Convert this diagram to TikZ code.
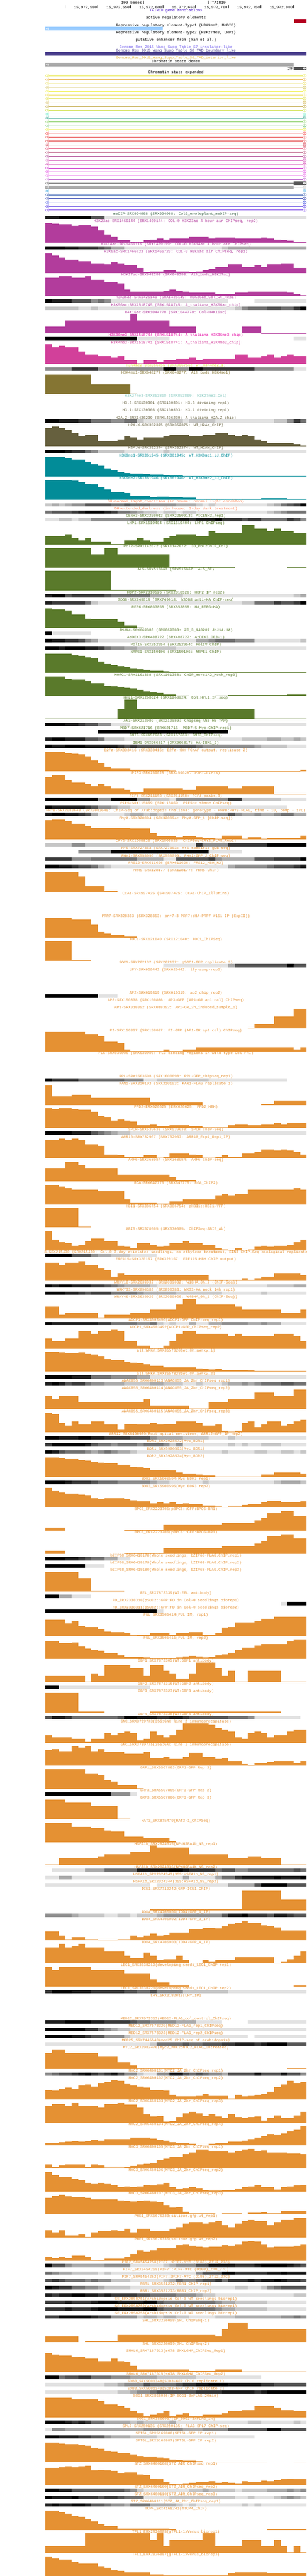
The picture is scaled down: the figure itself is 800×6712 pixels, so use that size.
\documentclass[tikz,border=0pt]{standalone}
\usepackage{fontspec}
\usepackage{tikz}
\usetikzlibrary{math}
\newfontfamily\ucsc{Liberation Mono}
\catcode`\_=12

\definecolor{g0}{HTML}{000000}
\definecolor{g1}{HTML}{1C1C1C}
\definecolor{g2}{HTML}{383838}
\definecolor{g3}{HTML}{555555}
\definecolor{g4}{HTML}{717171}
\definecolor{g5}{HTML}{8E8E8E}
\definecolor{g6}{HTML}{AAAAAA}
\definecolor{g7}{HTML}{C6C6C6}
\definecolor{g8}{HTML}{E2E2E2}
\definecolor{gw}{HTML}{FFFFFF}
\definecolor{cTair}{HTML}{3A00C8}
\definecolor{cRepress}{HTML}{99CCFF}
\definecolor{cActive}{HTML}{B40020}
\definecolor{cInsul}{HTML}{7B68EE}
\definecolor{cBound}{HTML}{483D8B}
\definecolor{cInter}{HTML}{DAA520}
\definecolor{cMeth}{HTML}{2E5A3C}
\definecolor{cAcet}{HTML}{B23C9C}
\definecolor{cMetA}{HTML}{E400A0}
\definecolor{cMetB}{HTML}{D2409A}
\definecolor{cMetC}{HTML}{DCDC3C}
\definecolor{cMetD}{HTML}{857533}
\definecolor{cMetE}{HTML}{7CC4BA}
\definecolor{cVar}{HTML}{66603E}
\definecolor{cNine}{HTML}{028C98}
\definecolor{cDh}{HTML}{FF7F50}
\definecolor{cReg}{HTML}{5A7A2B}
\definecolor{cTf}{HTML}{E59133}

\tikzset{
  tracklab/.style={font=\ucsc, inner sep=0pt, anchor=base},
  stateline/.style={line width=1pt},
}
\def\trackcol{black}
% label, centred over the plot
\newcommand{\tracklab}[2]{\node [tracklab, text=\trackcol] (lab#1) at (458.5, {#1+3.5}) {#2};}
% bar graph: base line, then bin/height pairs
\newcommand{\trackhist}[2]{%
  \foreach \bin/\hgt [remember=\bin as \last (initially 0)] in {#2} {
    \ifnum\hgt>0 \fill [fill=\trackcol] ({ex(\last)}, #1) rectangle ({ex(\bin)}, {#1-\hgt}); \fi
  }}
% grey strip: top line, then bin/level pairs
\newcommand{\trackdense}[2]{%
  \foreach \bin/\lev [remember=\bin as \last (initially 0)] in {#2} {
    \fill [fill=g\lev] ({ex(\last)}, #1) rectangle ({ex(\bin)}, {#1+9});
  }}
\newcommand{\leftmarks}[1]{%
  \fill [white] (123, {#1-3}) -- (120, #1) -- (123, {#1+3}) -- cycle;
  \fill [white] (127, {#1-3}) -- (124, #1) -- (127, {#1+3}) -- cycle;}
\newcommand{\rightmarks}[1]{%
  \fill [white] (790, {#1-3}) -- (793, #1) -- (790, {#1+3}) -- cycle;
  \fill [white] (794, {#1-3}) -- (797, #1) -- (794, {#1+3}) -- cycle;}

\begin{document}
\begin{tikzpicture}[x=1pt, y=-1pt, declare function={ex(\i)=118+17*\i+(\i>0);}]
  \useasboundingbox (0, 0) rectangle (800, 6712);

  % scale bar
  \coordinate (barleft) at (373.5, 6.5);
  \coordinate (barright) at (543.5, 6.5);
  \draw (barleft) -- (barright);
  \draw (barleft) ++(0, -4.5) -- ++(0, 9);
  \draw (barright) ++(0, -4.5) -- ++(0, 9);
  \node [tracklab, anchor=base east] (barlab) at (370, 10) {100 bases};
  \node [tracklab, anchor=base west] (barasm) at (552, 10) {TAIR10};

  % ruler
  \draw (169.5, 13.5) -- ++(0, 8.5);
  \foreach \tx/\tl in {254.5/{15,972,500}, 339.5/{15,972,550}, 424.5/{15,972,600}, 509.5/{15,972,650},
                       594.5/{15,972,700}, 679.5/{15,972,750}, 764.5/{15,972,800}} {
    \draw (\tx, 13.5) -- ++(0, 8.5);
    \node [tracklab, anchor=base east] (rul\tx) at (\tx-1.5, 21.5) {\tl};
  }

  % annotation tracks
  \def\trackcol{cTair}
  \tracklab{27}{TAIR10 gene annotations}
  \def\trackcol{black}
  \tracklab{46}{active regulatory elements}
  \fill [cActive] (767, 51) rectangle (799, 60);
  \tracklab{65}{Repressive regulatory element-Type1 (H3K9me2, MeDIP)}
  \fill [cRepress] (118, 70) rectangle (424, 79);
  \leftmarks{74.5}
  \tracklab{84}{Repressive regulatory element-Type2 (H3K27me3, LHP1)}
  \tracklab{103}{putative enhancer from (Yan et al.)}
  \def\trackcol{cInsul}
  \tracklab{122}{Genome_Res_2015_Wang_Supp_Table_S7_insulator-like}
  \def\trackcol{cBound}
  \tracklab{131}{Genome_Res_2015_Wang_Supp_Table_S8_TAD_boundary_like}
  \fill [cBound] (118, 136) rectangle (799, 145);
  \def\trackcol{cInter}
  \tracklab{150}{Genome_Res_2015_Wang_Supp_Table_S9_TAD_interior_like}

  % chromatin states
  \def\trackcol{black}
  \tracklab{159}{Chromatin state dense}
  \fill [g6] (118, 164) rectangle (765, 173);
  \leftmarks{168.5}
  \fill [g3] (765, 174) rectangle (799, 183);
  \rightmarks{178.5}
  \node [tracklab, anchor=base east] (statecount) at (762, 181.5) {29};
  \tracklab{188}{Chromatin state expanded}
  \foreach \c [count=\i from 0] in {E6E63A, E8AC3A, E6DC50, C8B43C, F0F040, F0DC50, DCDC32, C8A832, B4961E, C8DC32,
      50E6BE, 14967D, 78C850, 50B450, E6E61E, F01E1E, E63C3C, DC1E1E, C81E32, E65078, AA3264, AA3C8C, D24CB4, C814A0,
      C81EC8, DC28DC, E650E6, B450C8, 505050, ADADAD, 1496DC, 0A3CA0, 0A1EA0, 1E32DC, 3214DC, 6E32E6} {
    \tikzmath{
      \yc = 197.5+10*\i;
    }
    \edef\setstate{\noexpand\definecolor{st}{HTML}{\c}}\setstate
    \draw [stateline, st] (127, \yc) -- (789, \yc);
    \draw [st] (122.5, \yc-4) -- (118.5, \yc) -- (122.5, \yc+4) -- cycle;
    \draw [st] (126.5, \yc-4) -- (122.5, \yc) -- (126.5, \yc+4) -- cycle;
    \draw [st] (789.5, \yc-4) -- (793.5, \yc) -- (789.5, \yc+4) -- cycle;
    \draw [st] (794.5, \yc-4) -- (798.5, \yc) -- (794.5, \yc+4) -- cycle;
  }
  \fill [g3] (765, 473) rectangle (799, 482);
  \rightmarks{477.5}
  \fill [g6] (118, 483) rectangle (765, 492);
  \leftmarks{487.5}

  % histone marks
  \def\trackcol{cMeth}
  \tracklab{557}{meDIP-SRX004968 (SRX004968: Col0_wholeplant_meDIP-seq)}
  \trackdense{562}{2/1,7/0,9/3,40/8}
  \def\trackcol{cAcet}
  \tracklab{576}{H3K23ac-SRX1469144 (SRX1469144: COL-0 H3K23ac 4 hour air ChIPseq, rep2)}
  \trackhist{632}{1/51,2/50,4/48,5/44,7/45,8/42,9/32,10/21,11/15,13/6,15/3,16/6,17/8,18/11,19/8,20/11,21/10,22/11,25/15,26/11,29/13,30/11,31/10,33/11,34/13,35/10,36/8,37/6,38/5,39/3,40/2}
  \tracklab{636}{H3K14ac-SRX1469119 (SRX1469119: COL-0 H3K14ac 4 hour air ChIPseq)}
  \trackdense{641}{3/0,5/1,8/2,9/3,10/4,12/6,27/8,28/7,40/6}
  \tracklab{655}{H3K9ac-SRX1466723 (SRX1466723: COL-0 H3K9ac air ChIPseq, rep1)}
  \trackhist{711}{1/51,2/45,3/40,5/34,7/31,9/25,10/22,11/28,12/25,14/19,15/13,16/2,18/4,20/7,22/4,23/2,24/4,25/7,26/10,28/16,30/22,32/16,33/19,34/16,36/22,38/25,40/13}
  \tracklab{715}{H3K27ac-SRX648280 (SRX648280: Ath_buds_H3K27ac)}
  \trackhist{771}{2/48,4/51,6/48,7/51,9/42,11/36,12/33,13/17,18/11,19/14,20/17,21/14,22/11,26/8,29/5,31/8,37/11,38/8,39/5,40/2}
  \tracklab{775}{H3K36ac-SRX1426149 (SRX1426149: H3K36ac_Col_wt_Rep1)}
  \trackdense{780}{1/0,4/1,7/3,8/5,9/4,10/5,28/8,32/w,40/8}
  \tracklab{794}{H3K56ac-SRX1518745 (SRX1518745: A_thaliana_H3K56ac_chip)}
  \trackdense{799}{5/7,7/8,8/7,29/8,30/7,31/5,34/4,36/3,38/4,39/2,40/0}
  \tracklab{813}{H4K16ac-SRX1044778 (SRX1044778: Col-H4K16ac)}
  \trackhist{869}{3/18,13/34,14/51,19/34,23/18,30/0,33/18,40/1}
  \def\trackcol{cMetA}
  \tracklab{873}{H3K36me3-SRX1518744 (SRX1518744: A_thaliana_H3K36me3_chip)}
  \trackdense{878}{14/0,19/8,38/w,40/8}
  \def\trackcol{cMetB}
  \tracklab{892}{H3K4me3-SRX1518741 (SRX1518741: A_thaliana_H3K4me3_chip)}
  \trackhist{948}{1/51,2/43,3/47,5/43,6/32,8/25,10/21,11/17,12/21,14/10,15/2,17/10,18/6,20/10,22/13,23/17,24/10,29/13,31/25,33/17,34/21,35/25,36/17,37/21,38/25,40/21}
  \def\trackcol{cMetC}
  \tracklab{952}{H3K4me2-DRX066756 (DRX066756: WT_H3K4me2_1)}
  \trackdense{957}{4/5,8/2,18/5,20/0,22/5,24/0,32/2,38/5,40/8}
  \def\trackcol{cMetD}
  \tracklab{971}{H3K4me1-SRX648277 (SRX648277: Ath_buds_H3K4me1)}
  \trackhist{1027}{7/51,13/25,14/2}
  \def\trackcol{cMetE}
  \tracklab{1031}{H3K27me3-SRX853860 (SRX853860: H3K27me3_Col)}
  \def\trackcol{cVar}
  \tracklab{1050}{H3.3-SRX130301 (SRX130301: H3.3 dividing rep1)}
  \tracklab{1069}{H3.1-SRX130303 (SRX130303: H3.1 dividing rep1)}
  \tracklab{1088}{H2A.Z-SRX1436239 (SRX1436239: A_thaliana_H2A.Z_chip)}
  \trackdense{1093}{2/0,5/1,7/2,10/4,12/5,14/4,15/7,19/8,21/7,22/8,26/7,35/8,37/7,38/5,39/2,40/4}
  \tracklab{1107}{H2A.X-SRX352375 (SRX352375: WT_H2AX_ChIP)}
  \trackhist{1163}{1/47,2/51,3/47,4/44,5/35,6/27,8/30,11/14,12/18,13/27,14/23,15/18,18/23,19/27,22/30,24/27,26/30,28/35,29/30,30/27,31/30,32/27,33/18,34/14,38/9,39/6,40/2}
  \tracklab{1167}{H2A.W-SRX352374 (SRX352374: WT_H2AW_ChIP)}
  \trackdense{1172}{3/0,4/1,6/2,7/4,8/5,12/7,18/8,19/7,40/8}
  \def\trackcol{cNine}
  \tracklab{1186}{H3K9me1-SRX361945 (SRX361945: WT_H3K9me1_LJ_ChIP)}
  \trackhist{1242}{3/51,4/49,5/45,6/44,7/39,8/33,9/28,10/22,11/16,12/13,13/10,14/9,15/8,16/7,18/6,19/4,21/3,40/1}
  \tracklab{1246}{H3K9me2-SRX361946 (SRX361946: WT_H3K9me2_LJ_ChIP)}
  \trackhist{1302}{4/51,5/49,6/45,7/42,8/40,9/33,10/27,12/20,13/18,14/11,15/10,16/9,17/7,19/8,21/6,23/5,25/2,28/3,30/2,33/3,37/4,40/2}
  \def\trackcol{cDh}
  \tracklab{1306}{DH-normal_light_condition (in house: normal light conditon)}
  \trackdense{1311}{1/7,2/6,3/7,4/6,6/5,10/3,12/4,13/3,16/4,20/5,23/6,24/7,25/8,26/7,34/8,35/7,36/6,37/4,38/3,39/2,40/0}
  \tracklab{1325}{DH-extended_darkness (in house: 3-day dark treatment)}
  \trackdense{1330}{1/4,4/3,5/2,6/1,9/0,10/1,11/2,13/4,14/5,15/6,17/7,18/8,20/7,21/8,23/7,34/8,35/7,36/6,37/5,40/4}

  % chromatin regulators
  \def\trackcol{cReg}
  \tracklab{1344}{CENH3-SRX2250913 (SRX2250913: AtCENH3_rep1)}
  \trackdense{1349}{2/8,4/7,5/8,7/7,13/5,15/4,17/3,18/4,19/3,22/1,23/2,26/1,27/0,30/2,31/3,33/2,37/4,38/2,39/3,40/5}
  \tracklab{1363}{LHP1-SRX1519404 (SRX1519404: LHP1 ChIPseq)}
  \trackhist{1419}{3/22,4/27,5/17,6/11,7/17,10/7,12/2,14/11,15/17,16/11,18/7,19/17,20/22,23/27,25/22,26/35,30/31,32/51,34/42,35/35,36/42,38/35,40/31}
  \tracklab{1423}{Pol2-SRX1142672 (SRX1142672: 30_Pol2ChIP_Col)}
  \trackhist{1479}{7/51,9/34,11/51,19/34,29/2,37/0,40/2}
  \tracklab{1483}{AL5-SRX515067 (SRX515067: AL5_OE)}
  \trackhist{1539}{10/51,20/2}
  \tracklab{1543}{HDP2-SRX2310526 (SRX2310526: HDP2 IP rep2)}
  \trackdense{1548}{1/1,3/0,4/3,9/2,10/3,16/4,19/6,21/7,38/8,39/7,40/6}
  \tracklab{1562}{SDG8-SRX749018 (SRX749018: hSDG8 anti-HA ChIP-seq)}
  \trackdense{1567}{1/1,6/2,7/4,8/7,30/8,32/7,35/4,36/2,38/3,39/2,40/0}
  \tracklab{1581}{REF6-SRX853858 (SRX853858: HA_REF6-HA)}
  \trackhist{1637}{1/51,3/49,4/46,6/35,7/25,11/24,12/17,14/7,15/2}
  \tracklab{1641}{JMJ14-SRX669383 (SRX669383: ZC_3_140207 JMJ14-HA)}
  \trackdense{1646}{1/0,7/8}
  \tracklab{1660}{AtDEK3-SRX488722 (SRX488722: AtDEK3 OE3-1)}
  \trackdense{1665}{1/0,3/1,5/2,6/3,7/5,8/6,23/8,25/6,26/5,29/4,32/5,39/8,40/7}
  \tracklab{1679}{PolIV-SRX252954 (SRX252954: PolIV ChIP)}
  \trackdense{1684}{2/0,3/1,6/0,8/1,9/2,10/4,12/5,14/6,20/7,40/8}
  \tracklab{1698}{NRPE1-SRX159106 (SRX159106: NRPE1 ChIP)}
  \trackhist{1753}{4/50,5/46,6/44,7/40,8/37,9/29,10/23,11/20,12/17,13/15,14/12,15/9,16/8,18/5,19/4,20/2,40/1}
  \tracklab{1758}{MORC1-SRX1161358 (SRX1161358: ChIP_morc1/2_Mock_rep3)}
  \trackhist{1813}{3/50,4/44,5/43,6/42,7/38,9/33,10/26,11/25,12/24,13/21,14/19,15/15,16/12,17/9,18/8,20/4,22/1,26/0,28/1,37/2,40/3}
  \tracklab{1818}{HYL1-SRX1268024 (SRX1268024: Col_HYL1_IP_seq)}
  \trackhist{1874}{11/2,12/27,14/51,32/27,40/2}
  \tracklab{1878}{AN3-SRX212080 (SRX212080: Chipseq AN3 HB TAP)}
  \trackdense{1883}{3/0,5/1,6/2,8/3,10/5,13/8,28/w,40/8}
  \tracklab{1897}{MBD7-SRX621716 (SRX621716: MBD7-5-Myc-ChIP-rep1)}
  \trackdense{1902}{8/w,28/0}
  \tracklab{1916}{CMT3-SRX157663 (SRX157663: CMT3_ChIPseq)}
  \trackdense{1921}{1/1,3/0,6/1,8/3,9/4,12/7,30/8,34/7,36/6,38/7,39/6,40/7}
  \tracklab{1935}{IBM1-DRX066817 (DRX066817: HA-IBM1_2)}
  \trackdense{1940}{1/0,3/1,6/0,11/1,12/2,13/3,14/2,23/3,24/4,32/5,33/6,37/7,40/8}

  % transcription factors
  \def\trackcol{cTf}
  \tracklab{1954}{E2Fa-SRX333416 (SRX333416: E2Fa-HBH TChAP output, replicate 2)}
  \trackhist{2010}{3/51,4/47,5/46,6/45,7/40,8/29,9/22,10/13,12/9,13/8,14/5,19/4,20/2,22/0,39/1,40/4}
  \tracklab{2014}{PIF3-SRX159028 (SRX159028: P3M-ChIP-3)}
  \trackhist{2070}{1/46,3/51,4/37,6/31,7/27,8/21,9/27,10/21,12/16,13/12,15/7,21/16,23/12,28/21,30/16,35/21,40/2}
  \tracklab{2074}{PIF4-SRX214150 (SRX214150: PIF4-peaks-3)}
  \trackdense{2079}{8/0,10/5,14/0,16/5,19/7,20/8,28/5,30/2,36/7,40/8}
  \tracklab{2093}{PIF5-SRX115869 (SRX115869: PIF5ox shade ChIPseq)}
  \trackdense{2098}{1/0,6/1,7/2,8/3,10/5,11/6,13/7,37/8}
  \tracklab{2112}{PHYB-SRX2083648 (SRX2083648: ChIP-Seq of Arabidopsis thaliana: genotype - PHYB:PHYB-FLAG, time - 10, temp - 17C)}
  \trackdense{2117}{1/1,3/0,5/1,6/2,7/3,8/6,12/8,13/7,15/6,16/7,17/6,18/7,26/6,28/5,29/3,30/5,32/6,33/5,35/6,36/5,38/4,40/6}
  \tracklab{2131}{PhyA-SRX320094 (SRX320094: PhyA-GFP_1 [ChIP-seq])}
  \trackhist{2187}{1/50,3/51,4/47,6/41,7/35,13/30,16/28,17/17,20/8,21/5,23/8,24/5,26/3,27/2,30/9,31/2,32/6,33/5,34/2,39/3,40/9}
  \tracklab{2191}{CRY2-SRX1005826 (SRX1005826: ChIPSeq-CRY2_FLAG_Rep1)}
  \trackdense{2196}{4/7,6/5,19/7,23/8,24/2,28/5,34/2,40/0}
  \tracklab{2210}{HY5-SRX727353 (SRX727353: HY5 specific gDB-seq)}
  \trackdense{2215}{5/w,10/5,25/0,30/8}
  \tracklab{2229}{FHY1-SRX555090 (SRX555090: FHY1-GFP_2_ChIP-seq)}
  \trackdense{2234}{4/2,7/5,14/4,18/6,20/8,25/3,26/2,27/5,32/6,35/3,39/2,40/0}
  \tracklab{2248}{FRS12-ERX611626 (ERX611626: FRS12_HBH_N2)}
  \trackdense{2253}{2/0,4/1,5/2,7/3,8/4,9/6,10/7,28/8,29/6,34/5,35/4,38/3,39/2,40/1}
  \tracklab{2267}{PRR5-SRX128177 (SRX128177: PRR5-ChIP)}
  \trackhist{2323}{5/51,6/39,9/14,11/2}
  \tracklab{2327}{CCA1-SRX997425 (SRX997425: CCA1-ChIP_Illumina)}
  \tracklab{2387}{PRR7-SRX328353 (SRX328353: prr7-3 PRR7::HA-PRR7 \#151 IP (ExpII))}
  \trackhist{2443}{4/51,7/47,8/33,9/15,10/11,12/6,14/2}
  \tracklab{2447}{TOC1-SRX121040 (SRX121040: TOC1_ChIPSeq)}
  \trackhist{2503}{4/51,7/2}
  \tracklab{2507}{SOC1-SRX262132 (SRX262132: gSOC1-GFP replicate 3)}
  \trackdense{2512}{18/w,28/8,29/6,37/3,38/0,40/3}
  \tracklab{2526}{LFY-SRX029442 (SRX029442: lfy-samp-rep2)}
  \tracklab{2586}{AP2-SRX019319 (SRX019319: ap2_chip_rep2)}
  \trackdense{2591}{8/0,11/8}
  \tracklab{2605}{AP3-SRX150808 (SRX150808: AP3-GFP (AP1-GR ap1 cal) ChIPseq)}
  \tracklab{2624}{AP1-SRX018392 (SRX018392: AP1-GR_2h_induced_sample_1)}
  \trackhist{2680}{31/0,32/2,35/12,38/32,40/51}
  \tracklab{2684}{PI-SRX150807 (SRX150807: PI-GFP (AP1-GR ap1 cal) ChIPseq)}
  \trackhist{2740}{6/51,8/46,9/41,11/26,12/22,13/6,18/2,19/6,21/2,23/6,38/11,39/6,40/11}
  \tracklab{2744}{FLC-SRX039006 (SRX039006: FLC binding regions in wild type Col FRI)}
  \tracklab{2804}{RPL-SRX1603698 (SRX1603698: RPL-GFP_chipseq_rep1)}
  \trackdense{2809}{1/0,5/2,12/4,15/5,17/8,25/7,37/8}
  \tracklab{2823}{KAN1-SRX310193 (SRX310193: KAN1-FLAG replicate 1)}
  \trackhist{2879}{1/51,4/23,7/27,16/18,24/6,33/0,35/2,40/11}
  \tracklab{2883}{PPD2-ERX620625 (ERX620625: PPD2_HBH)}
  \trackhist{2939}{1/51,2/49,4/51,5/49,7/47,8/42,9/32,10/29,11/19,12/22,13/19,14/16,16/7,17/9,19/4,22/7,24/4,28/2,29/7,31/9,33/7,35/9,36/12,37/9,39/14,40/12}
  \tracklab{2943}{SPCH-SRX539638 (SRX539638: SPCH ChIP-Seq)}
  \trackdense{2948}{4/0,7/1,8/3,9/4,10/5,11/6,13/7,40/8}
  \tracklab{2962}{ARR10-SRX732967 (SRX732967: ARR10_Exp1_Rep1_IP)}
  \trackhist{3018}{2/48,3/51,4/48,5/51,6/48,8/36,9/33,11/10,12/8,15/5,17/8,18/2,19/5,22/13,23/10,24/8,26/2,27/5,28/8,30/5,32/13,33/17,35/23,36/20,37/23,38/20,39/17,40/10}
  \tracklab{3022}{ARF6-SRX368984 (SRX368984: ARF6 ChIP-Seq)}
  \trackhist{3078}{3/35,5/51,6/43,11/35,19/18,20/10,23/2}
  \tracklab{3082}{RGA-SRX647775 (SRX647775: RGA_ChIP2)}
  \trackhist{3138}{2/51,3/47,4/42,8/38,12/34,13/13,17/4,19/2,21/8,26/13,27/24,28/27,29/24,31/27,38/38,39/42,40/38}
  \tracklab{3142}{HBI1-SRX386754 (SRX386754: pHBI1::HBI1-YFP)}
  \trackhist{3198}{5/51,7/2}
  \tracklab{3202}{ABI5-SRX670505 (SRX670505: ChIPSeq-ABI5_Ab)}
  \trackhist{3258}{1/51,2/28,3/22,4/19,5/12,6/15,7/24,9/31,11/24,12/12,13/10,14/7,16/19,17/15,18/10,19/12,21/19,22/24,24/19,26/15,27/7,28/3,29/2,30/7,31/2,32/3,33/10,34/12,35/10,37/12,38/15,39/22,40/28}
  \tracklab{3262}{3-SRX215430 (SRX215430: Col-0 3-day etiolated seedlings, no ethylene treatment, EIN3 ChIP-Seq biological replicate}
  \trackdense{3267}{4/0,7/3,8/5,10/6,13/7,17/8}
  \tracklab{3281}{ERF115-SRX320167 (SRX320167: ERF115-HBH ChIP output)}
  \trackhist{3337}{2/47,3/42,5/47,6/51,8/42,9/33,10/28,11/11,12/20,25/15,30/2,31/6,32/2,33/6,35/11,39/20,40/15}
  \tracklab{3341}{WRKY18-SRX2039032 (SRX2039032: W18HA_0h_2 (ChIP-Seq))}
  \trackdense{3346}{1/0,2/1,4/0,7/1,9/2,10/3,11/4,12/5,16/6,17/7,34/8,38/7,40/6}
  \tracklab{3360}{WRKY33-SRX890383 (SRX890383: WK33-HA mock 14h rep1)}
  \trackdense{3365}{3/0,5/1,6/2,7/3,10/2,14/4,15/5,20/6,27/7,33/8,34/7,40/8}
  \tracklab{3379}{WRKY40-SRX2039026 (SRX2039026: W40HA_0h_1 (ChIP-Seq))}
  \trackhist{3435}{2/31,3/9,8/15,9/2,13/9,16/15,20/22,21/36,23/51,29/36,30/31,36/22,39/15,40/22}
  \tracklab{3439}{ADCP1-SRX4503490(ADCP1-GFP ChIP-seq_rep1)}
  \trackdense{3444}{1/0,8/1,10/2,14/4,16/5,17/4,18/7,19/8,20/7,22/8,23/6,25/8,27/6,31/5,33/6,34/5,36/6,40/8}
  \tracklab{3458}{ADCP1_SRX4503492(ADCP1-GFP_ChIPseq_rep2)}
  \trackhist{3514}{1/27,3/20,5/27,7/45,8/39,10/45,11/51,12/45,14/20,16/8,18/2,19/8,20/20,21/39,23/45,28/39,29/33,30/39,35/33,38/39,39/33,40/20}
  \tracklab{3518}{all_WRKY_SRX3557820(wt_0h_aWrky_1)}
  \trackhist{3574}{2/51,3/50,5/49,6/50,7/46,8/45,9/41,10/33,12/30,13/26,14/24,15/22,16/19,17/16,18/15,23/11,24/9,25/7,26/6,27/7,31/4,32/3,40/2}
  \tracklab{3578}{all_WRKY_SRX3557828(wt_0h_aWrky_2)}
  \trackdense{3583}{4/0,7/1,10/4,14/5,16/6,40/8}
  \tracklab{3597}{ANAC055_SRX6460113(ANAC055_JA_2hr_ChIPseq_rep1)}
  \trackdense{3602}{1/1,2/0,3/1,4/3,6/2,7/4,9/5,12/6,16/7,18/6,21/7,23/8,24/7,27/8,28/7,30/6,31/5,32/6,33/5,36/4,38/3,40/4}
  \tracklab{3616}{ANAC055_SRX6460114(ANAC055_JA_2hr_ChIPseq_rep2)}
  \trackhist{3672}{1/35,2/26,5/35,15/18,16/26,22/10,25/2,28/18,32/26,35/43,38/35,40/51}
  \tracklab{3676}{ANAC055_SRX6460115(ANAC055_JA_2hr_ChIPseq_rep3)}
  \trackhist{3732}{1/51,2/47,3/24,4/17,5/28,7/20,9/28,11/20,12/8,14/22,16/20,17/24,18/20,20/22,23/28,24/24,26/17,27/20,28/4,29/2,30/4,31/24,32/28,33/13,34/20,36/28,37/17,38/22,39/28,40/33}
  \tracklab{3736}{ARR12_SRX6490939(Root apical meristems, ARR12-GFP_IP_rep2)}
  \trackdense{3741}{2/0,5/1,7/0,9/1,13/2,16/3,17/5,21/6,25/7,28/8,29/7,40/8}
  \tracklab{3755}{BDR1_SRX3928572(Myc_BDR1)}
  \trackdense{3760}{1/2,6/0,7/1,8/3,10/4,11/5,14/4,15/5,18/4,19/5,20/7,21/5,28/8,29/7,30/8,31/7,33/8,36/7,40/8}
  \tracklab{3774}{BDR1_SRX5900593(Myc BDR1)}
  \trackdense{3779}{1/0,2/1,3/3,6/4,7/5,8/6,9/5,10/4,11/5,13/6,14/7,27/8,28/7,32/8,34/7,36/8,38/7,39/8,40/7}
  \tracklab{3793}{BDR2_SRX3928574(Myc_BDR2)}
  \trackhist{3849}{2/51,3/50,4/48,5/47,6/45,7/43,8/40,9/38,11/36,13/33,14/27,15/26,16/23,19/19,20/18,21/12,23/10,24/7,25/5,26/4,33/2,35/7,39/12,40/10}
  \tracklab{3853}{BDR3_SRX5900594(Myc BDR3 rep1)}
  \trackdense{3858}{3/0,4/1,7/2,8/3,11/4,16/5,17/6,19/7,24/8,25/7,35/8,36/7,39/6,40/7}
  \tracklab{3872}{BDR3_SRX5900595(Myc BDR3 rep2)}
  \trackhist{3928}{1/51,2/45,3/39,5/37,6/34,7/32,8/25,9/22,12/25,13/21,14/19,16/16,17/11,18/14,19/11,20/14,21/10,22/11,23/10,24/9,26/5,27/3,28/1,30/3,31/7,33/10,34/14,36/18,39/14,40/16}
  \tracklab{3932}{BPC6_ERX2223705(pBPC6::GFP:BPC6-BR1)}
  \trackhist{3988}{3/8,12/0,18/2,27/14,32/20,33/26,34/33,36/45,38/51,40/39}
  \tracklab{3992}{BPC6_ERX2223706(pBPC6::GFP:BPC6-BR1)}
  \trackhist{4048}{3/8,12/0,18/2,27/14,32/20,33/26,34/33,36/45,38/51,40/39}
  \tracklab{4052}{bZIP68_SRX6410178(Whole seedlings, bZIP68-FLAG.ChIP.rep1)}
  \trackdense{4057}{3/0,5/1,6/2,7/3,9/4,11/6,13/8}
  \tracklab{4071}{bZIP68_SRX6410179(Whole seedlings, bZIP68-FLAG.ChIP.rep2)}
  \trackdense{4076}{6/0,9/8}
  \tracklab{4090}{bZIP68_SRX6410180(Whole seedlings, bZIP68-FLAG.ChIP.rep3)}
  \trackhist{4146}{5/51,7/34,12/2}
  \tracklab{4150}{EEL_SRX7873339(WT:EEL antibody)}
  \trackdense{4155}{2/0,4/6,7/8}
  \tracklab{4169}{FD_ERX2338310(pSUC2::GFP:FD in Col-0 seedlings biorep1)}
  \trackdense{4174}{36/w,37/8,40/0}
  \tracklab{4188}{FD_ERX2338311(pSUC2::GFP:FD in Col-0 seedlings biorep2)}
  \trackdense{4193}{17/0,18/8}
  \tracklab{4207}{FUL_SRX3505414(FUL IM, rep1)}
  \trackhist{4263}{3/43,4/33,5/40,6/27,8/24,9/19,10/12,12/10,13/8,14/2,16/4,19/8,20/4,22/8,24/10,26/4,27/8,28/22,29/24,32/36,33/40,35/45,40/51}
  \tracklab{4267}{FUL_SRX3505415(FUL IM, rep2)}
  \trackhist{4323}{2/47,4/42,5/43,6/33,7/27,8/24,9/22,11/15,12/10,15/6,16/4,19/2,20/3,21/4,22/7,23/9,24/7,25/4,26/6,27/10,28/13,29/16,30/24,32/30,33/36,34/39,37/40,38/46,40/51}
  \tracklab{4327}{GBF1_SRX7873305(WT:GBF1 antibody)}
  \trackhist{4383}{6/16,7/2,8/23,9/16,13/45,15/37,16/16,18/45,19/30,20/23,22/9,23/23,26/51,27/37,28/16,29/30,31/2,36/30,40/2}
  \tracklab{4387}{GBF2_SRX7873316(WT:GBF2 antibody)}
  \trackdense{4392}{2/0,16/8}
  \tracklab{4406}{GBF3_SRX7873327(WT:GBF3 antibody)}
  \trackhist{4462}{5/51,9/2,16/0,36/2}
  \tracklab{4466}{GBF4_SRX7873338(WT:GBF4 antibody)}
  \trackdense{4471}{1/3,3/1,4/2,11/4,12/3,14/0,17/1,19/2,21/1,22/2,28/3,31/4,32/5,39/8}
  \tracklab{4485}{GNC_SRX3739773(35S:GNC line 2 immunoprecipitate)}
  \trackhist{4541}{1/20,4/15,6/11,7/2,9/11,10/25,11/20,12/25,13/29,14/25,15/6,16/11,17/29,18/20,19/15,20/20,21/33,25/51,26/47,27/38,28/33,29/29,30/15,31/11,32/25,33/29,34/25,35/15,37/20,38/29,40/33}
  \tracklab{4545}{GNC_SRX3739775(35S:GNC line 1 immunoprecipitate)}
  \trackhist{4601}{1/41,2/44,4/38,5/51,6/47,7/51,8/38,9/44,12/37,15/31,16/37,18/21,19/23,21/18,22/23,24/34,26/23,27/18,28/21,30/13,31/5,32/2,34/7,35/10,38/13,39/7,40/13}
  \tracklab{4605}{GRF1_SRX5507863(GRF1-GFP Rep 3)}
  \trackhist{4661}{6/51,8/41,9/37,10/23,11/19,14/9,15/2}
  \tracklab{4665}{GRF3_SRX5507865(GRF3-GFP Rep 2)}
  \trackdense{4670}{10/0,13/5,14/8}
  \tracklab{4684}{GRF3_SRX5507866(GRF3-GFP Rep 3)}
  \trackhist{4740}{3/51,7/43,11/35,13/2}
  \tracklab{4744}{HAT3_SRX875470(HAT3-1_ChIPSeq)}
  \trackhist{4800}{4/51,7/40,9/37,10/31,12/28,15/15,19/12,20/2}
  \tracklab{4804}{HSFA1b_SRX2024335(NP:HSFA1b_NS_rep1)}
  \trackhist{4860}{2/2,8/18,9/23,13/29,16/35,17/51,22/46,28/29,31/18,33/23,36/18,40/2}
  \tracklab{4864}{HSFA1b_SRX2024336(NP:HSFA1b_NS_rep2)}
  \trackdense{4869}{1/w,6/8,9/6,14/4,19/1,21/0,22/1,26/2,27/4,29/3,31/5,38/4,39/3,40/4}
  \tracklab{4883}{HSFA1b_SRX2024343(35S:HSFA1b_NS_rep1)}
  \trackdense{4888}{2/8,4/6,21/8,22/6,26/8,27/6,29/4,30/2,35/1,36/0,39/1,40/0}
  \tracklab{4902}{HSFA1b_SRX2024344(35S:HSFA1b_NS_rep2)}
  \trackdense{4907}{16/8,17/w,28/8,32/6,33/3,37/0,40/3}
  \tracklab{4921}{ICE1_SRX7719242(GFP-ICE1_ChIP)}
  \trackhist{4977}{16/0,30/2,36/51,40/27}
  \tracklab{4981}{IDD4_SRX4705001(IDD4-GFP_1_IP)}
  \trackdense{4986}{4/5,5/6,9/7,11/8,13/7,14/8,17/7,18/6,27/5,28/3,30/1,31/0,34/2,35/3,37/1,38/2,40/3}
  \tracklab{5000}{IDD4_SRX4705002(IDD4-GFP_3_IP)}
  \trackhist{5056}{2/23,3/12,4/3,6/8,8/3,11/2,13/3,14/13,15/8,16/12,17/18,18/13,19/15,22/21,24/30,26/33,27/31,28/37,29/43,30/46,31/51,33/46,34/40,35/38,36/34,40/26}
  \tracklab{5060}{IDD4_SRX4705003(IDD4-GFP_4_IP)}
  \trackhist{5116}{2/42,3/51,4/42,5/44,6/51,9/42,12/31,13/20,15/14,16/29,17/20,18/9,20/11,21/20,22/9,24/2,25/9,26/5,29/9,35/16,36/2,37/5,38/11,39/20,40/31}
  \tracklab{5120}{LEC1_SRX3638219(developing seeds_LEC1_ChIP rep1)}
  \trackhist{5176}{1/51,2/43,7/51,12/43,16/35,17/18,19/10,22/2,38/0,40/2}
  \tracklab{5180}{LEC1_SRX3638221(developing seeds_LEC1_ChIP rep2)}
  \trackdense{5185}{1/2,4/0,7/1,12/2,14/3,16/4,17/3,21/5,28/7,40/8}
  \tracklab{5199}{LHY_SRX3182010(LHY_IP)}
  \tracklab{5259}{MED12_SRX7573312(MED12-FLAG_col_control_ChIPseq)}
  \trackdense{5264}{3/1,7/0,9/1,13/2,14/3,16/4,20/5,23/6,27/8,31/w,40/8}
  \tracklab{5278}{MED12_SRX7573320(MED12-FLAG_rep1_ChIPseq)}
  \trackdense{5283}{6/0,8/2,9/4,10/5,11/6,13/7,40/8}
  \tracklab{5297}{MED12_SRX7573322(MED12-FLAG_rep2_ChIPseq)}
  \trackdense{5302}{4/0,6/1,7/2,9/3,12/5,13/7,31/8,32/w,40/8}
  \tracklab{5316}{MED25_SRX7445540(med25 ChIP-seq of arabidopsis)}
  \trackdense{5321}{16/8,17/7,21/4,22/3,24/4,27/3,29/2,32/1,33/2,34/1,37/0,40/3}
  \tracklab{5335}{MYC2_SRX5982476(myc2_MYC2:MYC2_FLAG_untreated)}
  \trackhist{5391}{1/42,3/51,8/42,11/34,13/17,14/9,21/2,37/0,40/2}
  \tracklab{5395}{MYC2_SRX6460101(MYC2_JA_2hr_ChIPseq_rep1)}
  \trackdense{5400}{1/5,2/4,4/3,5/2,6/1,7/0,8/2,9/3,10/2,11/1,12/3,14/5,15/7,17/8,19/5,21/1,22/3,23/4,24/3,25/4,27/5,28/6,32/3,33/1,36/3,37/1,39/3,40/5}
  \tracklab{5414}{MYC2_SRX6460102(MYC2_JA_2hr_ChIPseq_rep2)}
  \trackhist{5470}{1/24,2/22,3/28,4/30,5/28,6/36,7/39,8/34,9/43,10/46,11/51,12/48,13/41,14/36,15/34,16/30,18/24,19/22,20/12,23/8,24/10,25/15,28/10,29/2,30/12,31/8,32/10,33/12,34/15,35/20,36/32,37/39,38/48,39/43,40/46}
  \tracklab{5474}{MYC2_SRX6460103(MYC2_JA_2hr_ChIPseq_rep3)}
  \trackhist{5530}{1/42,3/48,4/43,5/51,7/44,8/42,9/38,11/48,12/51,14/47,15/38,16/21,17/16,18/17,19/2,20/3,21/14,22/24,23/27,24/24,25/17,26/22,27/16,28/12,29/22,30/14,31/12,32/14,33/16,34/5,35/12,36/18,38/12,39/18,40/27}
  \tracklab{5534}{MYC2_SRX6460104(MYC2_JA_2hr_ChIPseq_rep4)}
  \trackhist{5590}{2/6,3/9,4/10,5/11,6/10,7/11,8/15,9/13,10/17,13/16,16/20,17/18,18/15,19/13,20/9,22/6,23/4,25/2,26/4,28/6,30/10,31/12,32/16,33/21,34/24,35/30,36/29,37/31,38/37,39/40,40/51}
  \tracklab{5594}{MYC3_SRX6460105(MYC3_JA_2hr_ChIPseq_rep1)}
  \trackhist{5650}{1/10,2/4,3/8,5/10,6/11,7/4,8/10,9/8,11/3,12/2,13/4,14/6,15/10,16/12,17/15,18/22,19/26,21/31,22/37,23/42,25/49,28/44,29/42,30/45,31/49,32/51,33/45,34/47,36/42,37/41,39/39,40/37}
  \tracklab{5654}{MYC3_SRX6460106(MYC3_JA_2hr_ChIPseq_rep2)}
  \trackhist{5710}{1/51,2/43,4/39,5/33,6/29,7/22,8/21,9/22,10/21,11/17,12/11,13/13,14/11,15/13,16/17,17/15,18/18,19/22,20/11,21/7,22/9,23/11,24/9,25/4,27/2,29/4,30/7,31/11,32/13,33/17,35/11,36/5,37/11,38/13,39/15,40/17}
  \tracklab{5714}{MYC3_SRX6460107(MYC3_JA_2hr_ChIPseq_rep3)}
  \trackhist{5770}{1/44,2/49,3/51,4/47,6/45,7/44,9/40,10/39,11/40,12/37,13/35,14/34,15/36,16/37,17/34,18/32,19/24,20/18,21/19,22/7,26/3,27/2,30/3,31/2,33/4,34/6,36/3,40/10}
  \tracklab{5774}{PHE1_SRX5676333(silique.gfp.wt_rep1)}
  \trackhist{5830}{1/19,2/13,3/19,5/5,6/9,7/2,8/13,10/17,11/19,12/17,13/23,14/13,16/23,19/17,20/23,21/27,22/36,24/40,25/36,26/40,27/43,28/32,29/27,30/36,31/43,32/46,34/43,35/32,36/40,38/46,40/51}
  \tracklab{5834}{PHE1_SRX5676335(silique.gfp.wt_rep2)}
  \trackhist{5890}{1/9,2/6,3/9,4/6,6/13,7/11,8/2,9/1,12/5,13/11,14/17,15/26,16/23,17/26,20/32,21/40,22/42,23/38,24/36,25/34,27/36,28/40,29/38,30/42,31/49,32/51,33/49,34/42,35/34,38/36,39/38,40/42}
  \tracklab{5894}{PIF7_SRX5454258(PIF7::PIF7-MYC (D108)_ZT12_27C)}
  \trackdense{5899}{1/0,3/3,4/5,9/6,13/5,18/8,19/7,20/6,23/5,25/3,29/1,32/2,33/1,37/0,38/1,39/2,40/3}
  \tracklab{5913}{PIF7_SRX5454260(PIF7::PIF7-MYC (D108)_ZT8_27C)}
  \trackdense{5918}{1/4,2/5,4/6,8/7,9/8,10/7,23/8,24/5,27/3,29/0,34/2,36/1,37/0,40/1}
  \tracklab{5932}{PIF7_SRX5454262(PIF7::PIF7-MYC (D108)_ZT12_27C)}
  \trackdense{5937}{1/3,2/2,3/3,6/4,7/5,8/4,10/5,13/7,18/8,19/7,20/6,21/4,23/5,24/4,26/3,27/2,28/4,31/2,32/1,33/2,35/1,36/0,37/1,39/2,40/3}
  \tracklab{5951}{RBR1_SRX3531272(RBR1_ChIP_rep1)}
  \trackdense{5956}{1/0,2/1,4/2,6/4,8/5,9/6,13/7,29/8,31/7,33/8,34/7,35/5,36/4,40/3}
  \tracklab{5970}{RBR1_SRX3531273(RBR1_ChIP_rep2)}
  \trackdense{5975}{1/1,2/2,4/1,6/0,8/1,9/2,10/1,14/2,16/3,20/4,23/5,24/6,26/7,38/8,40/7}
  \tracklab{5989}{SE_ERX2858751(Arabidopsis Col-0 WT seedlings biorep1)}
  \trackdense{5994}{3/2,4/1,7/2,8/1,11/0,15/1,17/0,18/3,26/4,27/5,29/6,34/7,40/8}
  \tracklab{6008}{SE_ERX2858752(Arabidopsis Col-0 WT seedlings biorep1)}
  \trackdense{6013}{3/2,4/1,7/2,8/1,11/0,15/1,17/0,18/3,26/4,27/5,29/6,34/7,40/8}
  \tracklab{6027}{SE_ERX2858753(Arabidopsis Col-0 WT seedlings biorep1)}
  \trackdense{6032}{2/2,7/0,8/1,10/2,14/5,15/7,17/6,18/7,20/6,22/7,26/8,29/7,36/6,38/5,39/4,40/5}
  \tracklab{6046}{SHL_SRX3226098(SHL ChIPSeq-1)}
  \trackhist{6102}{5/14,6/0,11/2,26/20,27/14,28/33,31/51,40/33}
  \tracklab{6106}{SHL_SRX3226099(SHL ChIPSeq-2)}
  \tracklab{6125}{SMXL6_SRX7187013(s678 SMXL6HA_ChIPSeq_Rep1)}
  \trackhist{6181}{1/51,2/46,4/43,5/41,6/39,7/36,8/35,10/29,11/36,12/29,13/27,14/17,22/8,26/4,30/8,40/2}
  \tracklab{6185}{SMXL6_SRX7187015(s678 SMXL6HA_ChIPSeq_Rep2)}
  \trackdense{6190}{2/0,3/4,5/3,7/2,10/4,13/5,17/6,23/7,33/8}
  \tracklab{6204}{SOB3_SRX5001348(SOB3-GFP ChIP replicate 1)}
  \trackdense{6209}{9/8,11/7,12/6,15/5,16/3,20/4,21/3,23/2,25/1,28/0,33/1,35/2,40/3}
  \tracklab{6223}{SOB3_SRX5001349(SOB3-GFP ChIP replicate 2)}
  \trackdense{6228}{11/8,13/7,14/6,16/5,17/4,23/3,27/2,32/1,33/2,34/1,40/0}
  \tracklab{6242}{SOG1_SRX3866936(IP_SOG1-3xFLAG_20min)}
  \trackhist{6298}{4/51,8/47,9/42,11/33,12/29,13/24,14/15,15/10,16/2,17/6,18/10,19/15,20/2,21/6,22/10,24/2,27/6,28/10,30/15,32/19,35/29,36/24,38/19,40/15}
  \tracklab{6302}{SOG1_SRX3866937(IP_SOG1-3xFLAG_1h)}
  \trackdense{6307}{3/0,4/1,5/2,6/1,7/2,9/4,13/6,14/7,15/6,19/7,20/6,31/8,33/7,38/8,39/7,40/8}
  \tracklab{6321}{SPL7-SRX250135 (SRX250135: FLAG-SPL7 ChIP-seq)}
  \trackdense{6326}{1/8,3/5,15/6,21/5,24/6,28/5,34/3,36/0,40/3}
  \tracklab{6340}{SPT6L_SRX5169086(SPT6L-GFP IP rep1)}
  \trackdense{6345}{2/0,5/1,7/2,9/3,10/5,13/6,17/7,32/8}
  \tracklab{6359}{SPT6L_SRX5169087(SPT6L-GFP IP rep2)}
  \trackhist{6415}{2/51,3/48,5/47,6/44,7/43,8/37,9/35,10/29,11/27,13/24,14/20,15/16,17/15,18/12,19/9,20/6,21/5,23/4,24/3,34/1,38/0,40/1}
  \tracklab{6419}{STZ_SRX6460108(STZ_AIR_ChIPseq_rep1)}
  \trackhist{6475}{2/45,3/47,4/49,5/47,6/49,7/51,8/38,9/40,10/38,11/37,12/30,14/33,15/27,16/26,17/17,18/16,19/9,20/3,21/2,22/5,23/6,25/9,26/10,27/6,28/7,29/6,30/5,31/10,33/9,34/11,35/10,36/13,37/15,38/17,40/16}
  \tracklab{6479}{STZ_SRX6460109(STZ_AIR_ChIPseq_rep2)}
  \trackdense{6484}{2/0,4/1,12/3,13/4,14/5,15/7,22/8,24/7,25/6,29/7,30/8,34/7,37/6,38/5,39/6,40/5}
  \tracklab{6498}{STZ_SRX6460110(STZ_AIR_ChIPseq_rep3)}
  \trackdense{6503}{1/0,4/1,5/0,8/2,9/3,11/2,12/3,15/4,19/8,29/7,31/8,32/7,35/8,36/7,37/6,38/5,39/6,40/7}
  \tracklab{6517}{STZ_SRX6460111(STZ_JA_2hr_ChIPseq_rep1)}
  \trackdense{6522}{1/1,2/0,4/1,6/0,7/1,9/3,10/4,12/5,13/6,16/4,20/6,21/7,22/8,23/7,30/8,31/7,32/8,33/7,40/8}
  \tracklab{6536}{TCP4_SRX4168241(mTCP4_ChIP)}
  \trackhist{6592}{2/51,3/46,4/42,5/37,6/35,7/29,8/23,9/15,11/10,19/3,20/2,34/0,40/2}
  \tracklab{6596}{TFL1_ERX2826885(gTFL1-1xVenus_biorep1)}
  \trackhist{6652}{6/18,16/51,17/34,18/51,19/18,24/34,26/51,30/18,33/34,35/18,36/34,37/18,38/2,39/18,40/2}
  \tracklab{6656}{TFL1_ERX2826887(gTFL1-1xVenus_biorep3)}
  \trackhist{6712}{1/51,2/46,4/43,5/37,8/32,9/26,10/21,11/15,12/13,16/10,18/4,28/2,29/7,34/10,40/7}
\end{tikzpicture}
\end{document}
